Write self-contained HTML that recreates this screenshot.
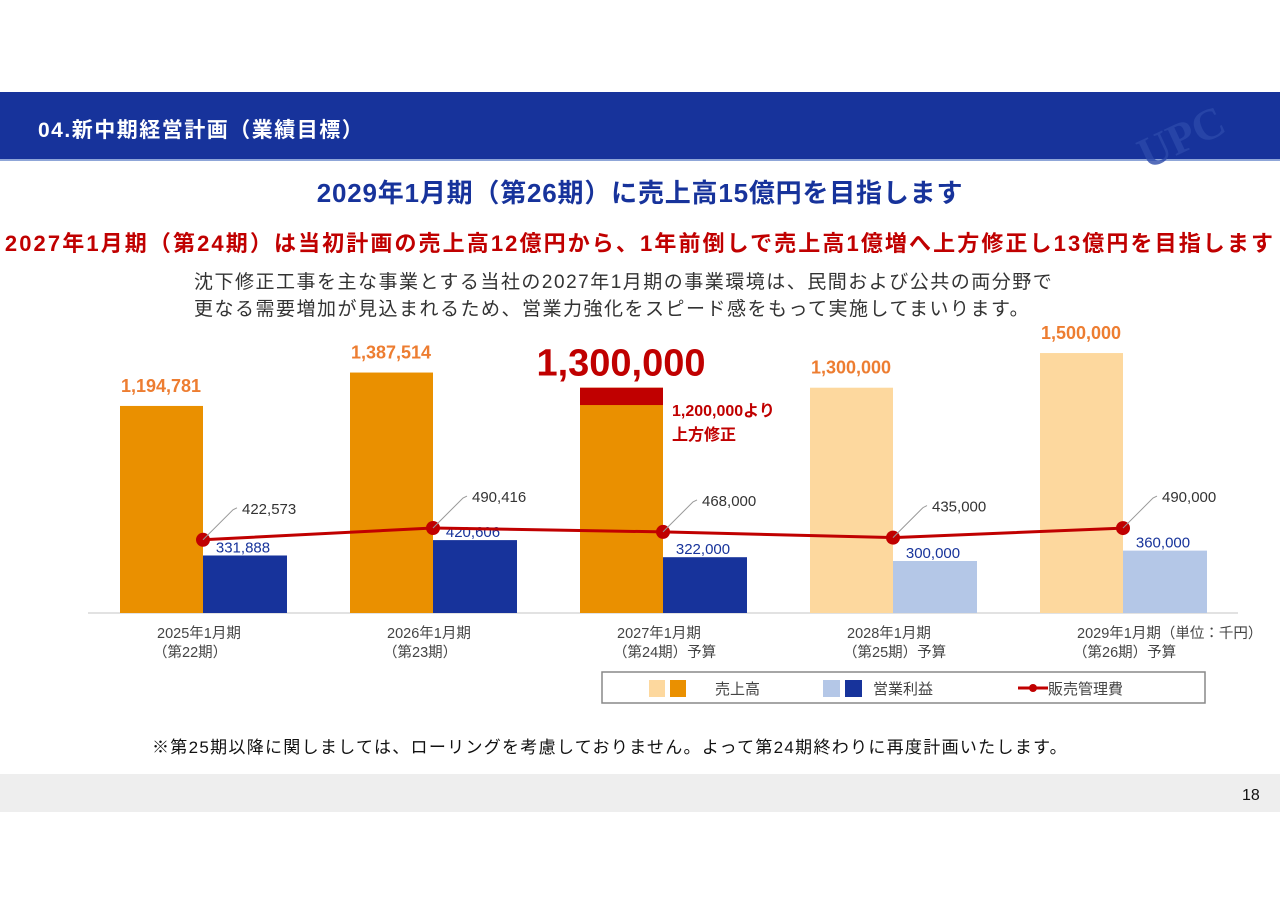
<!DOCTYPE html>
<html><head><meta charset="utf-8"><style>
body{margin:0;width:1280px;height:905px;background:#fff;font-family:"Liberation Sans","Noto Sans CJK JP",sans-serif;position:relative;overflow:hidden}
.a{position:absolute;white-space:nowrap}
</style></head><body>
<div class="a" style="left:0;top:92px;width:1280px;height:67px;background:#17339B;border-bottom:2px solid #8fa6d8"></div>
<div class="a" style="left:1135px;top:100px;width:145px;height:58px;color:#2b49aa;font:bold 44px 'Liberation Serif',serif;transform:rotate(-25deg);opacity:.8">UPC</div>
<div class="a" style="left:38px;top:114px;color:#fff;font-weight:bold;font-size:21px;letter-spacing:1.5px">04.新中期経営計画（業績目標）</div>
<div class="a" style="left:0;width:1280px;top:173px;text-align:center;color:#17339B;font-weight:bold;font-size:26px;letter-spacing:0.8px">2029年1月期（第26期）に売上高15億円を目指します</div>
<div class="a" style="left:0;width:1280px;top:226px;text-align:center;color:#C00000;font-weight:bold;font-size:22px;letter-spacing:2.1px">2027年1月期（第24期）は当初計画の売上高12億円から、1年前倒しで売上高1億増へ上方修正し13億円を目指します</div>
<div class="a" style="left:194px;top:269px;color:#333;font-size:19px;line-height:27px;letter-spacing:1.5px">沈下修正工事を主な事業とする当社の2027年1月期の事業環境は、民間および公共の両分野で<br>更なる需要増加が見込まれるため、営業力強化をスピード感をもって実施してまいります。</div>
<svg id="chart" width="1280" height="905" style="position:absolute;left:0;top:0" font-family="Liberation Sans, Noto Sans CJK JP, sans-serif"></svg>
<div class="a" style="left:152px;top:733px;font-size:17px;color:#111;letter-spacing:1.3px">※第25期以降に関しましては、ローリングを考慮しておりません。よって第24期終わりに再度計画いたします。</div>
<div class="a" style="left:0;top:774px;width:1280px;height:38px;background:#eee"></div>
<div class="a" style="left:1242px;top:787px;font-size:16px;color:#111">18</div>
<script>
const categories=["2025年1月期|（第22期）","2026年1月期|（第23期）","2027年1月期|（第24期）予算","2028年1月期|（第25期）予算","2029年1月期（単位：千円）|（第26期）予算"];
const sales=[1194781,1387514,1300000,1300000,1500000];
const salesLabels=["1,194,781","1,387,514","1,300,000","1,300,000","1,500,000"];
const profit=[331888,420606,322000,300000,360000];
const profitLabels=["331,888","420,606","322,000","300,000","360,000"];
const sga=[422573,490416,468000,435000,490000];
const sgaLabels=["422,573","490,416","468,000","435,000","490,000"];
const originalPlan=1200000;
const isBudget=[false,false,false,true,true];
const svg=document.getElementById('chart');const NS='http://www.w3.org/2000/svg';
const base=613,k=173.3/1e6;
const y=v=>base-v*k;const cx=i=>203+i*230;
function mk(t,a,name){const e=document.createElementNS(NS,t);for(const q in a)e.setAttribute(q,a[q]);


svg.appendChild(e);return e}
function tx(x,yy,s,a,name){const e=mk('text',Object.assign({x:x,y:yy},a),name);e.textContent=s;return e}
mk('line',{x1:88,x2:1238,y1:base,y2:base,stroke:'#d9d9d9','stroke-width':1.5},'x-axis');
sales.forEach((v,i)=>{
 const c=cx(i);
 mk('rect',{x:c-83,y:y(v),width:83,height:v*k,fill:isBudget[i]?'#FDD89E':'#EA9000'},'bar-sales-'+i);
 if(i==2){mk('rect',{x:c-83,y:y(v),width:83,height:(v-originalPlan)*k,fill:'#C00000'},'bar-sales-revision');
  tx(c-42,y(v)-12,salesLabels[i],{fill:'#C00000','font-weight':'bold','font-size':38,'text-anchor':'middle'},'sales-label-'+i);}
 else tx(c-42,y(v)-14,salesLabels[i],{fill:'#ED7D31','font-weight':'bold','font-size':18,'text-anchor':'middle'},'sales-label-'+i);
 mk('rect',{x:c,y:y(profit[i]),width:84,height:profit[i]*k,fill:isBudget[i]?'#B4C7E7':'#17339B'},'bar-profit-'+i);
 tx(c+40,y(profit[i])-3,profitLabels[i],{fill:'#17339B','font-size':15,'text-anchor':'middle'},'profit-label-'+i);
 const p=categories[i].split('|');
 tx(c-46,638,p[0],{fill:'#444','font-size':14.5},'category-label-'+i);
 tx(c-50,657,p[1],{fill:'#444','font-size':14.5},'category-sub-label-'+i);
});
tx(672,416,'1,200,000より',{fill:'#C00000','font-weight':'bold','font-size':16},'revision-note');
tx(672,440,'上方修正',{fill:'#C00000','font-weight':'bold','font-size':16},'revision-note-2');
mk('polyline',{points:sga.map((v,i)=>cx(i)+','+y(v)).join(' '),fill:'none',stroke:'#C00000','stroke-width':3},'sga-line');
sga.forEach((v,i)=>{const c=cx(i),yy=y(v);
 mk('circle',{cx:c,cy:yy,r:7,fill:'#C00000'},'sga-point-'+i);
 mk('polyline',{points:`${c},${yy} ${c+30},${yy-30} ${c+34},${yy-32}`,fill:'none',stroke:'#999','stroke-width':1},'sga-leader-'+i);
 tx(c+39,yy-26,sgaLabels[i],{fill:'#333','font-size':15},'sga-label-'+i);});
mk('rect',{x:602,y:672,width:603,height:31,fill:'#fff',stroke:'#888','stroke-width':1.5},'legend-box');
mk('rect',{x:649,y:680,width:16,height:17,fill:'#FDD89E'},'legend-sales-light');
mk('rect',{x:670,y:680,width:16,height:17,fill:'#EA9000'},'legend-sales');
tx(715,694,'売上高',{fill:'#444','font-size':15},'legend-sales-label');
mk('rect',{x:823,y:680,width:17,height:17,fill:'#B4C7E7'},'legend-profit-light');
mk('rect',{x:845,y:680,width:17,height:17,fill:'#17339B'},'legend-profit');
tx(873,694,'営業利益',{fill:'#444','font-size':15},'legend-profit-label');
mk('line',{x1:1018,x2:1048,y1:688,y2:688,stroke:'#C00000','stroke-width':3},'legend-sga-line');
mk('circle',{cx:1033,cy:688,r:4,fill:'#C00000'},'legend-sga-marker');
tx(1048,694,'販売管理費',{fill:'#444','font-size':15},'legend-sga-label');
</script>
</body></html>
